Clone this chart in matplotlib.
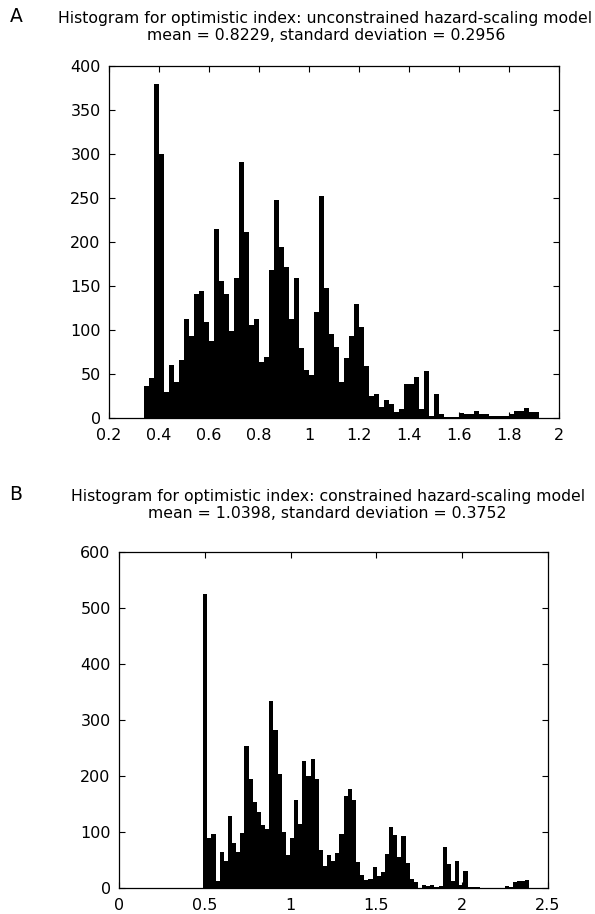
import numpy as np
import matplotlib
matplotlib.use("Agg")
import matplotlib.pyplot as plt

# panel A: unconstrained model, 79 bins of width 0.02 starting at 0.34
a_start = 0.34
a_width = 0.02
a_counts = [
    36, 45, 380, 300, 29, 60, 41, 66, 112, 93,
    141, 144, 109, 88, 215, 156, 141, 99, 159, 291,
    211, 106, 112, 64, 69, 168, 248, 194, 172, 113,
    159, 80, 55, 49, 121, 252, 148, 96, 81, 41,
    68, 93, 130, 103, 59, 25, 27, 13, 20, 16,
    7, 10, 39, 39, 47, 10, 53, 2, 27, 5,
    1, 1, 1, 6, 5, 5, 8, 4, 5, 2,
    2, 2, 2, 5, 8, 8, 11, 7, 7,
]
a_xticks = [0.2, 0.4, 0.6, 0.8, 1.0, 1.2, 1.4, 1.6, 1.8, 2.0]
a_xlabels = ["0.2", "0.4", "0.6", "0.8", "1", "1.2", "1.4", "1.6", "1.8", "2"]
a_yticks = [0, 50, 100, 150, 200, 250, 300, 350, 400]

# panel B: constrained model, 79 bins starting at 0.49
b_start = 0.4905
b_width = 0.02407
b_counts = [
    525, 89, 97, 12, 64, 49, 128, 81, 65, 99,
    254, 194, 154, 136, 113, 106, 334, 283, 203, 100,
    59, 89, 157, 115, 226, 200, 230, 195, 68, 40,
    59, 49, 62, 97, 165, 176, 157, 46, 24, 15,
    16, 37, 21, 29, 61, 109, 95, 55, 93, 45,
    16, 11, 0, 5, 4, 5, 2, 3, 74, 43,
    13, 49, 6, 30, 2, 2, 2, 0, 0, 0,
    0, 0, 0, 3, 2, 11, 13, 12, 15,
]
b_xticks = [0, 0.5, 1.0, 1.5, 2.0, 2.5]
b_xlabels = ["0", "0.5", "1", "1.5", "2", "2.5"]
b_yticks = [0, 100, 200, 300, 400, 500, 600]

W, H = 595, 914
plt.rcParams["font.family"] = ["DejaVu Sans"]

fig = plt.figure(figsize=(W / 100, H / 100), dpi=100)


def px_axes(left, top, right, bottom):
    return fig.add_axes([left / W, 1 - bottom / H, (right - left) / W, (bottom - top) / H])


def draw_hist(ax, start, width, counts, xlim, ylim, xticks, xlabels, yticks):
    edges = start + width * np.arange(len(counts))
    ax.bar(edges, counts, width=width, align="edge", color="black", linewidth=0)
    ax.set_xlim(*xlim)
    ax.set_ylim(*ylim)
    ax.set_xticks(xticks)
    ax.set_xticklabels(xlabels)
    ax.set_yticks(yticks)
    ax.tick_params(direction="in", length=4, width=0.8, top=True, right=True,
                   labelsize=11.5)
    ax.tick_params(axis="x", pad=7)
    ax.tick_params(axis="y", pad=6)
    for spine in ax.spines.values():
        spine.set_linewidth(0.9)


ax_a = px_axes(109, 66, 559, 418)
draw_hist(ax_a, a_start, a_width, a_counts, (0.2, 2.0), (0, 400), a_xticks, a_xlabels, a_yticks)

ax_b = px_axes(119, 552, 548, 888)
draw_hist(ax_b, b_start, b_width, b_counts, (0, 2.5), (0, 600), b_xticks, b_xlabels, b_yticks)

title_kw = dict(ha="center", va="center", fontsize=11.3)
fig.text(325 / W, 1 - 19 / H, "Histogram for optimistic index: unconstrained hazard-scaling model", **title_kw)
fig.text(326 / W, 1 - 36 / H, "mean = 0.8229, standard deviation = 0.2956", **title_kw)
fig.text(16 / W, 1 - 16 / H, "A", ha="center", va="center", fontsize=13.5)

fig.text(328 / W, 1 - 497 / H, "Histogram for optimistic index: constrained hazard-scaling model", **title_kw)
fig.text(327 / W, 1 - 514 / H, "mean = 1.0398, standard deviation = 0.3752", **title_kw)
fig.text(16 / W, 1 - 494 / H, "B", ha="center", va="center", fontsize=13.5)

fig.savefig("out.png", dpi=100)
